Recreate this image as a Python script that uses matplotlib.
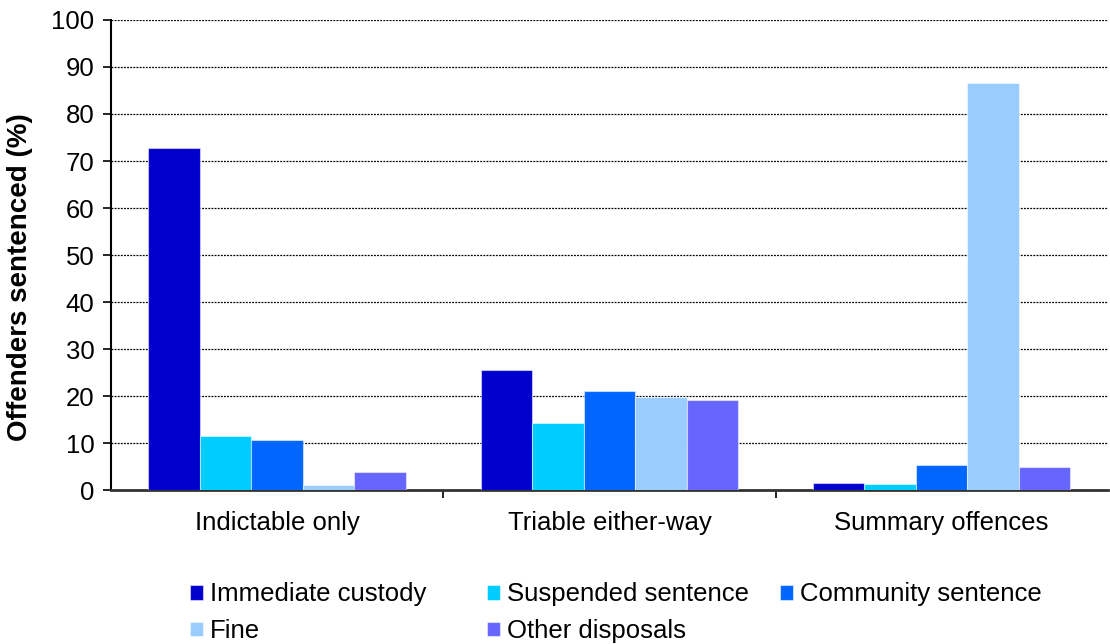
import numpy as np
import matplotlib.pyplot as plt

plt.rcParams['font.family'] = ['Liberation Sans', 'DejaVu Sans']

categories = ['Indictable only', 'Triable either-way', 'Summary offences']
series = ['Immediate custody', 'Suspended sentence', 'Community sentence', 'Fine', 'Other disposals']
immediate = [72.8, 25.5, 1.5]
suspended = [11.6, 14.3, 1.3]
community = [10.7, 21.1, 5.3]
fine = [1.1, 19.9, 86.6]
other = [3.8, 19.1, 5.0]
colors = ['#0000CC', '#00CCFF', '#0066FF', '#99CCFF', '#6666FF']

values = [immediate, suspended, community, fine, other]

fig = plt.figure(figsize=(11.1, 6.44), dpi=100)
ax = fig.add_axes([0.1, 0.239, 0.898, 0.73])

x = np.arange(len(categories))
w = 0.155
handles = []
for i, (vals, name, c) in enumerate(zip(values, series, colors)):
    b = ax.bar(x + (i - 2) * w, vals, w, color=c, label=name, zorder=3,
               edgecolor=(1, 1, 1, 0.5), linewidth=0.8)
    handles.append(b)

ax.set_xlim(-0.5, 2.5)
ax.set_ylim(0, 100)
ax.set_yticks(range(0, 101, 10))
ax.yaxis.grid(True, linestyle=(0, (1.5, 1)), color='black', linewidth=0.9, zorder=0)
ax.set_xticks(x)
ax.set_xticklabels(categories, fontsize=18.5)
ax.tick_params(axis='x', length=0, pad=15)
ax.set_xticks([0.5, 1.5], minor=True)
ax.tick_params(axis='x', which='minor', length=6, width=1.2, direction='out')
ax.tick_params(axis='y', labelsize=18.5, length=6, width=1.2, direction='out', pad=6)
ax.set_ylabel('Offenders sentenced (%)', fontsize=20, fontweight='bold')
ax.yaxis.set_label_coords(-0.078, 0.453)

for s in ['top', 'right']:
    ax.spines[s].set_visible(False)
ax.spines['left'].set_linewidth(1.5)
ax.spines['bottom'].set_linewidth(2)
ax.spines['bottom'].set_color('#333333')

# legend laid out row-major in three columns, one legend per column
columns = [[0, 3], [1, 4], [2]]
col_x = [0.171, 0.4386, 0.7024]
for cx, idx in zip(col_x, columns):
    leg = fig.legend([handles[i] for i in idx], [series[i] for i in idx],
                     loc='upper left', bbox_to_anchor=(cx, 0.0957), frameon=False,
                     fontsize=18.5, handlelength=0.5, handleheight=0.5, handletextpad=0.3,
                     labelspacing=0.5, borderaxespad=0, borderpad=0)

fig.savefig('out.png', dpi=100)
